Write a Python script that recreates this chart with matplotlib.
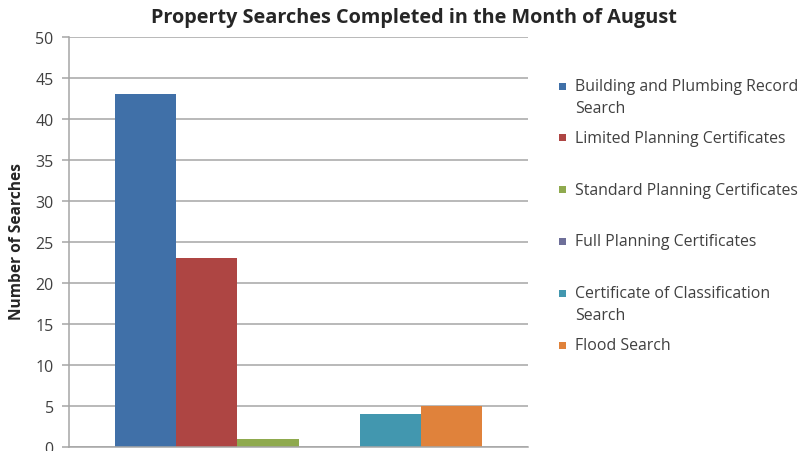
import matplotlib
matplotlib.use("Agg")
import matplotlib.pyplot as plt
from matplotlib.patches import Rectangle

# ---- data ----
categories = ["August"]
series_labels = [
    "Building and Plumbing Record\nSearch",
    "Limited Planning Certificates",
    "Standard Planning Certificates",
    "Full Planning Certificates",
    "Certificate of Classification\nSearch",
    "Flood Search",
]
series_values = [[43], [23], [1], [0], [4], [5]]
series_colors = ["#4070A8", "#AE4543", "#8FAA4E", "#6E6F99", "#4297AF", "#E0823B"]
y_ticks = [0, 5, 10, 15, 20, 25, 30, 35, 40, 45, 50]
title = "Property Searches Completed in the Month of August"
y_label = "Number of Searches"

W, H = 799, 452
plt.rcParams['font.family'] = ['Open Sans', 'DejaVu Sans']
fig = plt.figure(figsize=(W / 100, H / 100), dpi=100)

def fx(px):
    return px / W

def fy(py):
    return 1 - py / H

ax = fig.add_axes([fx(69), fy(448), fx(528) - fx(69), fy(38) - fy(448)])

n = len(series_values)
gap = 1.5
bw = 1.0 / (n + gap)
for i, (vals, col) in enumerate(zip(series_values, series_colors)):
    xs = [c - 0.5 + (gap / 2 + i + 0.5) * bw for c in range(len(categories))]
    ax.bar(xs, vals, width=bw, color=col, zorder=3, linewidth=0)

ax.set_xlim(-0.5, len(categories) - 0.5)
ax.set_ylim(0, 50)
ax.set_yticks(y_ticks)
ax.set_xticks([])
ax.grid(axis='y', color='#A6A6A6', linewidth=1.1, zorder=0)
for s in ['top', 'right']:
    ax.spines[s].set_visible(False)
ax.spines['left'].set_color('#A6A6A6')
ax.spines['bottom'].set_color('#A6A6A6')
ax.spines['left'].set_linewidth(1.1)
ax.spines['bottom'].set_linewidth(1.1)
ax.spines['bottom'].set_zorder(4)
ax.tick_params(axis='y', direction='out', length=5, color='#A6A6A6', width=1.1,
               labelsize=11.5, labelcolor='#404040', pad=6)

fig.text(fx(414), fy(18), title, ha='center', va='center', fontsize=14.3,
         fontweight='bold', color='#262626')
fig.text(fx(17), fy(242), y_label, ha='center', va='center', rotation=90,
         fontsize=11.2, fontweight='bold', color='#262626')

# ---- legend ----
spacing = 51.8
for i, (lab, col) in enumerate(zip(series_labels, series_colors)):
    yc = 87 + i * spacing
    fig.add_artist(Rectangle((fx(559), fy(yc + 3.5)), fx(7), 7 / H,
                             transform=fig.transFigure, facecolor=col,
                             edgecolor='none'))
    for j, line in enumerate(lab.split("\n")):
        fig.text(fx(575), fy(yc + j * 22), line, ha='left', va='center',
                 fontsize=11.4, color='#404040')

fig.savefig("out.png", dpi=100)
